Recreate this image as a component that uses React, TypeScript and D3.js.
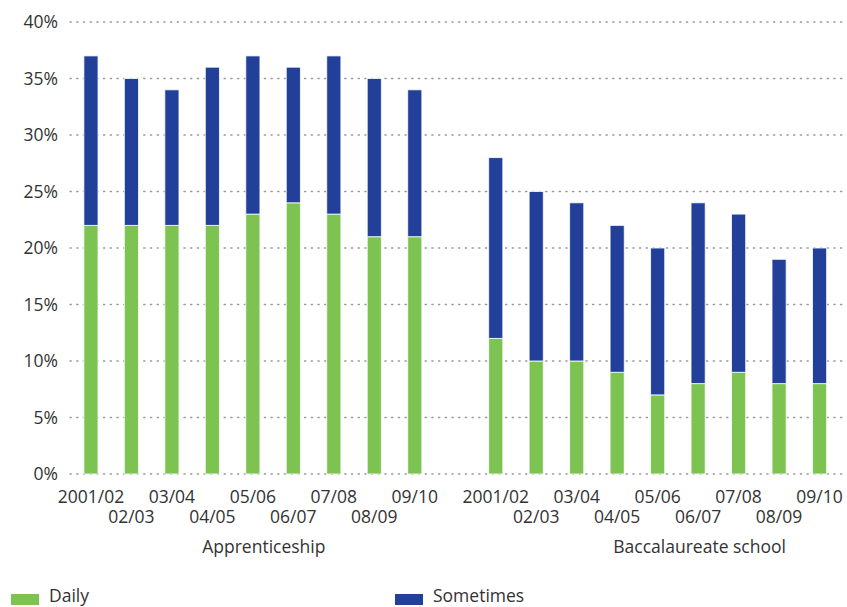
import React from 'react';
import * as d3 from 'd3';

const years = ['2001/02', '02/03', '03/04', '04/05', '05/06', '06/07', '07/08', '08/09', '09/10'];
const groups = ['Apprenticeship', 'Baccalaureate school'];
const apprDaily = [22, 22, 22, 22, 23, 24, 23, 21, 21];
const apprSometimes = [15, 13, 12, 14, 14, 12, 14, 14, 13];
const baccDaily = [12, 10, 10, 9, 7, 8, 9, 8, 8];
const baccSometimes = [16, 15, 14, 13, 13, 16, 14, 11, 12];
const yTicks = [0, 5, 10, 15, 20, 25, 30, 35, 40];

const GREEN = '#7dc352';
const BLUE = '#223f99';
const FONT = '"Open Sans", Lato, sans-serif';

export default function App() {
  const width = 847;
  const height = 607;

  // 19 slots: 9 + gap + 9
  const slots = d3.range(19).map(String);
  const x = d3.scaleBand().domain(slots).range([70.5, 840]).paddingInner(0.65).paddingOuter(0.33);
  const y = d3.scaleLinear().domain([0, 40]).range([474, 22]);

  const rows = [
    ...years.map((yr, i) => ({ key: 'a' + i, slot: i, label: yr, daily: apprDaily[i], some: apprSometimes[i] })),
    ...years.map((yr, i) => ({ key: 'b' + i, slot: i + 10, label: yr, daily: baccDaily[i], some: baccSometimes[i] })),
  ];

  const stack = d3.stack<any>().keys(['daily', 'some'])(rows);
  const colors = [GREEN, BLUE];

  const bw = x.bandwidth();
  const center = (s: number) => (x(String(s)) as number) + bw / 2;

  return (
    <svg width={width} height={height} style={{ position: 'absolute', left: 0, top: 0 }}>
      <g>
        {yTicks.map(t => (
          <g key={t}>
            <line x1={70} x2={847} y1={y(t)} y2={y(t)} stroke="#999" strokeWidth={1.3}
              strokeDasharray="1.3 5.4" strokeLinecap="round" />
            <text x={58} y={y(t)} dy="0.35em" textAnchor="end" fontFamily={FONT} fontSize={17.5} fill="#333">
              {t}%
            </text>
          </g>
        ))}
      </g>
      {stack.map((layer, li) => (
        <g key={li} fill={colors[li]} stroke="#fff" strokeWidth={1} strokeOpacity={0.8}>
          {layer.map((d, i) => (
            <rect key={rows[i].key} x={x(String(rows[i].slot))} width={bw}
              y={y(d[1])} height={y(d[0]) - y(d[1])} />
          ))}
        </g>
      ))}
      <g fontFamily={FONT} fontSize={17.5} fill="#333" textAnchor="middle">
        {rows.map((r, i) => (
          <text key={r.key} x={center(r.slot)} y={(i % 9) % 2 === 0 ? 503 : 523}>{r.label}</text>
        ))}
        <text x={center(4) + 11} y={553}>{groups[0]}</text>
        <text x={center(14) + 42} y={553}>{groups[1]}</text>
      </g>
      <g fontFamily={FONT} fontSize={17.5} fill="#333">
        <rect x={11} y={594} width={28} height={11} fill={GREEN} />
        <text x={49} y={602}>Daily</text>
        <rect x={395} y={594} width={28} height={11} fill={BLUE} />
        <text x={433} y={602}>Sometimes</text>
      </g>
    </svg>
  );
}
